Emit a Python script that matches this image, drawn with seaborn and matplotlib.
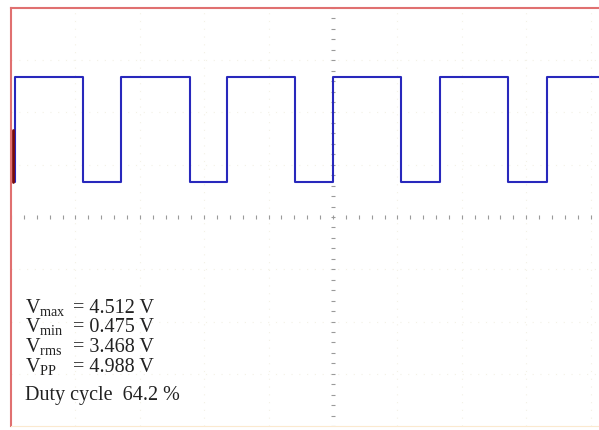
import numpy as np
import pandas as pd
import matplotlib
matplotlib.use("Agg")
import matplotlib.pyplot as plt
import seaborn as sns

# edge times (ms, 1 ms/div) and levels
rise_t = [-4.94, -3.29, -1.65, 0.0, 1.66, 3.32]
fall_t = [-3.88, -2.22, -0.59, 1.06, 2.71]
end_t = 4.4
v_high = 4.512
v_low = 0.475

meas_names = ["max", "min", "rms", "PP"]
meas_vals = [4.512, 0.475, 3.468, 4.988]
duty = 64.2

# build the step trace
t, v = [], []
for i, r in enumerate(rise_t):
    t += [r, r]
    v += [v_low, v_high]
    if i < len(fall_t):
        t += [fall_t[i], fall_t[i]]
        v += [v_high, v_low]
t.append(end_t)
v.append(v_high)
df = pd.DataFrame({"t": t, "v": v})

sns.set_style("white")
plt.rcParams["mathtext.fontset"] = "custom"
plt.rcParams["mathtext.rm"] = "Liberation Serif"
plt.rcParams["mathtext.it"] = "Liberation Serif"

fig = plt.figure(figsize=(5.99, 4.30), dpi=100)
ax = fig.add_axes([11 / 599, 4 / 430, 644 / 599, 418 / 430])

vtop, vbot = 7.154, -8.923
ax.set_xlim(-5, 5)
ax.set_ylim(vbot, vtop)
vc = (vtop + vbot) / 2

# faint screen grid
for gx in np.arange(-4, 5, 1):
    if gx != 0:
        ax.axvline(gx, color="#f3f1e6", lw=0.8, ls=(0, (1, 6)))
for gy in np.linspace(vbot, vtop, 9)[1:-1]:
    if abs(gy - vc) > 1e-6:
        ax.axhline(gy, color="#f3f1e6", lw=0.8, ls=(0, (1, 6)))

# centre cross with minor ticks
xt = np.arange(-5, 5.01, 0.2)
ax.plot(xt, np.full_like(xt, vc), ls="none", marker="|", ms=3, color="#9a9a9a", mew=0.8)
yt = np.linspace(vbot, vtop, 41)
ax.plot(np.zeros_like(yt), yt, ls="none", marker="_", ms=3, color="#9a9a9a", mew=0.8)

sns.lineplot(data=df, x="t", y="v", ax=ax, sort=False, estimator=None,
             color="#2828bc", lw=1.5)

# channel marker
ax.axvline(-4.97, ymin=0.584, ymax=0.708, color="#7a0a0a", lw=2)

ax.set_xticks([])
ax.set_yticks([])
ax.set_xlabel("")
ax.set_ylabel("")
for s in ["left", "top"]:
    ax.spines[s].set_color("#e07070")
    ax.spines[s].set_linewidth(1.5)
ax.spines["bottom"].set_color("#fbe9cf")
ax.spines["right"].set_visible(False)

# measurement readout
tc = "#222222"
baselines = [313, 332, 352, 372]
for name, val, yb in zip(meas_names, meas_vals, baselines):
    fig.text(25 / 599, 1 - yb / 430, r"$\mathrm{V_{%s}}$" % name, fontsize=14.5,
             color=tc, va="baseline")
    fig.text(73 / 599, 1 - yb / 430, "= %.3f V" % val, fontsize=14.5,
             family="Liberation Serif", color=tc, va="baseline")
fig.text(25 / 599, 1 - 400 / 430, "Duty cycle  %.1f %%" % duty, fontsize=14.5,
         family="Liberation Serif", color=tc, va="baseline")

fig.savefig("out.png", dpi=100)
